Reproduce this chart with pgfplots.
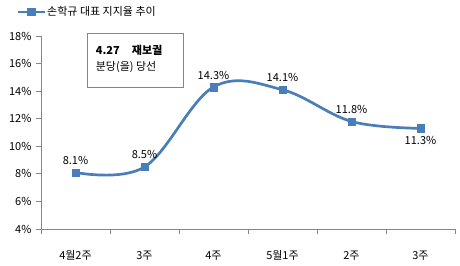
\documentclass[border=0pt]{standalone}
\usepackage{pgfplots}
\pgfplotsset{compat=1.18}
\usepackage{fontspec}
\setmainfont{Noto Sans CJK KR}
\definecolor{lineblue}{HTML}{4A7EBB}
\definecolor{axgray}{HTML}{868686}
\newcommand{\fs}{\fontsize{11pt}{13pt}\selectfont}
\begin{document}
\begin{tikzpicture}
\path[use as bounding box] (-41pt,-36pt) rectangle (419pt,229pt);
\begin{axis}[
  scale only axis, width=414pt, height=193pt,
  xmin=-0.5, xmax=5.5, ymin=4, ymax=18,
  axis x line*=bottom, axis y line*=left,
  axis line style={axgray, line width=0.75pt},
  tick style={axgray, line width=0.75pt},
  tick align=outside, major tick length=5pt,
  ytick={4,6,...,18},
  yticklabel={\pgfmathprintnumber{\tick}\%},
  /pgf/number format/assume math mode=true,
  xtick={-0.5,0.5,...,5.5}, xticklabels={},
  extra x ticks={0,1,2,3,4,5},
  extra x tick labels={4월2주,3주,4주,5월1주,2주,3주},
  extra x tick style={major tick length=0pt, tick label style={yshift=-18pt}},
  tick label style={font=\fs, text=black},
  yticklabel style={xshift=-1pt},
  legend style={at={(-0.0556,1.1244)}, anchor=west, xshift=-1.5pt, draw=none, fill=none,
    inner sep=0pt, font=\fs, nodes={inner sep=1.5pt}},
  legend image code/.code={\draw[#1, line width=2pt, mark repeat=2, mark phase=2] plot coordinates {(0pt,0pt) (13.5pt,0pt) (27pt,0pt)};},
  clip=false,
]
\addplot[smooth, tension=0.6, color=lineblue, line width=2.7pt, mark=square*,
  mark size=3.7pt, mark options={solid, line width=0.4pt}] table {
x y
0 8.1
1 8.5
2 14.3
3 14.1
4 11.8
5 11.3
};
\addlegendentry{손학규 대표 지지율 추이}
\addplot[draw=none, mark=none, forget plot, point meta=y,
  nodes near coords={\pgfmathprintnumber[fixed,fixed zerofill,precision=1]{\pgfplotspointmeta}\%},
  every node near coord/.append style={anchor=center, yshift=12pt, font=\fs, text=black}] table {
x y
0 8.1
1 8.5
2 14.3
3 14.1
4 11.8
};
\addplot[draw=none, mark=none, forget plot, point meta=y,
  nodes near coords={\pgfmathprintnumber[fixed,fixed zerofill,precision=1]{\pgfplotspointmeta}\%},
  every node near coord/.append style={anchor=center, yshift=-12pt, font=\fs, text=black}] table {
x y
5 11.3
};
\node[draw=axgray, line width=0.75pt, minimum width=96pt, minimum height=54pt, inner sep=0pt] (bx) at (axis description cs:0.2271,0.8756) {};
\node[anchor=west, inner sep=0pt, font=\fs] at ([xshift=9pt,yshift=10pt]bx.west) {\textbf{4.27\hspace{1.1em}재보궐}};
\node[anchor=west, inner sep=0pt, font=\fs] at ([xshift=9pt,yshift=-7pt]bx.west) {분당(을) 당선};
\end{axis}
\end{tikzpicture}
\end{document}
